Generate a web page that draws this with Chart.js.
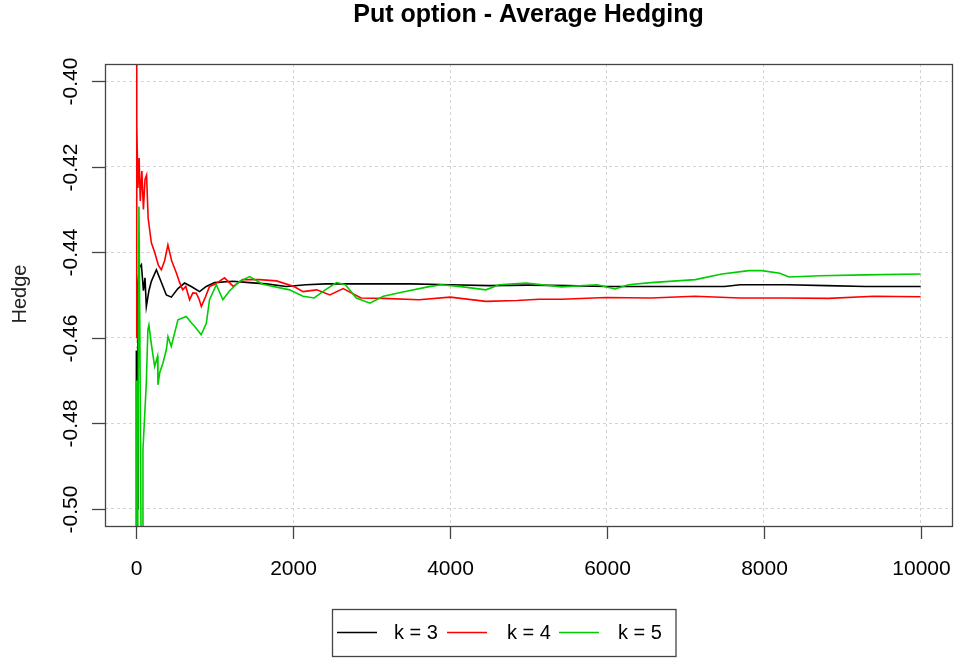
<!DOCTYPE html>
<html lang="en">
<head>
  <meta charset="UTF-8">
  <title>Put option - Average Hedging</title>
  <script src="https://cdn.jsdelivr.net/npm/chart.js"></script>
  <style>
    body { margin: 0; background: #fff; }
    canvas { display: block; }
  </style>
</head>
<body>
  <canvas id="hedgeChart" width="956" height="661"></canvas>

  <script>
    // tick labels
    const xTicks = [0, 2000, 4000, 6000, 8000, 10000];
    const yTicks = [-0.40, -0.42, -0.44, -0.46, -0.48, -0.50];
    const yTickLabels = ['-0.40', '-0.42', '-0.44', '-0.46', '-0.48', '-0.50'];

    // series names + colours
    const seriesNames = ['k = 3', 'k = 4', 'k = 5'];
    const seriesColors = ['#000000', '#ff0000', '#00cd00'];

    // k = 3
    const k3X = [0, 3, 10, 20, 40, 64, 90, 110, 127, 160, 191, 255, 313, 382, 446, 530, 615, 700, 806, 891,
      997, 1230, 1443, 1655, 1910, 2165, 2419, 2674, 3000, 3500, 4000, 4500, 5000, 5500, 6000, 6500, 7000, 7500, 7700, 8000,
      8300, 8800, 9300, 10000];
    const k3Y = [-0.463, -0.58, -0.50, -0.447, -0.4435, -0.4429, -0.449, -0.446, -0.4527, -0.449,
      -0.4468, -0.4441, -0.4468, -0.450, -0.4505, -0.4485, -0.4472, -0.448, -0.4492, -0.448,
      -0.4471, -0.4468, -0.4471, -0.4474, -0.448, -0.4476, -0.4474, -0.4474, -0.4474, -0.4474,
      -0.4476, -0.4478, -0.4477, -0.4478, -0.448, -0.448, -0.448, -0.448, -0.4476, -0.4476,
      -0.4476, -0.4478, -0.448, -0.448];

    // k = 4
    const k4X = [0, 2, 8, 20, 35, 50, 70, 90, 110, 130, 150, 191, 233, 280, 318, 360, 402, 450, 509, 550,
      590, 630, 679, 720, 764, 800, 828, 880, 933, 1000, 1124, 1236, 1354, 1444, 1570, 1787, 2011, 2125, 2300, 2467,
      2637, 2864, 3148, 3602, 4002, 4456, 4855, 5136, 5422, 5989, 6559, 7122, 7695, 8264, 8829, 9401, 10000];
    const k4Y = [-0.46, -0.30, -0.4103, -0.425, -0.418, -0.428, -0.421, -0.430, -0.423, -0.422,
      -0.432, -0.4378, -0.440, -0.443, -0.4441, -0.442, -0.4383, -0.442, -0.4448, -0.447,
      -0.4488, -0.448, -0.4511, -0.4495, -0.4496, -0.451, -0.4527, -0.4505, -0.448, -0.4475,
      -0.446, -0.448, -0.4464, -0.4464, -0.4464, -0.4467, -0.448, -0.4492, -0.4488, -0.450,
      -0.4485, -0.4507, -0.4508, -0.4511, -0.4505, -0.4515, -0.4513, -0.451, -0.451, -0.4506,
      -0.4507, -0.4503, -0.4507, -0.4507, -0.4508, -0.4503, -0.4504];

    // k = 5
    const k5X = [0, 4, 20, 33, 45, 64, 80, 84, 127, 147, 160, 195, 233, 270, 275, 300, 339, 382, 403, 445,
      530, 636, 700, 742, 826, 892, 933, 1020, 1103, 1189, 1316, 1444, 1613, 1952, 2125, 2267, 2409, 2551, 2665, 2805,
      2977, 3149, 3429, 3717, 3888, 4168, 4456, 4626, 4968, 5422, 5874, 6103, 6275, 6559, 7127, 7466, 7810, 7975, 8205, 8320,
      8714, 9287, 10000];
    const k5Y = [-0.47, -0.62, -0.49, -0.4293, -0.46, -0.52, -0.505, -0.4861, -0.4705, -0.4581,
      -0.457, -0.462, -0.4667, -0.4643, -0.471, -0.468, -0.4659, -0.4628, -0.4597, -0.462,
      -0.4558, -0.455, -0.4565, -0.4573, -0.4593, -0.4566, -0.4511, -0.4476, -0.4511, -0.449,
      -0.4468, -0.4457, -0.4475, -0.4488, -0.4503, -0.4507, -0.4488, -0.4471, -0.4476, -0.4507,
      -0.4519, -0.4503, -0.4492, -0.4481, -0.4476, -0.4481, -0.4488, -0.4476, -0.4472, -0.4481,
      -0.4476, -0.4486, -0.4476, -0.4471, -0.4464, -0.4451, -0.4443, -0.4443, -0.4449, -0.4458,
      -0.4455, -0.4453, -0.4451];

    const FONT = "'Liberation Sans', Arial, sans-serif";

    function toPoints(xs, ys) {
      return xs.map((x, i) => ({ x: x, y: ys[i] }));
    }

    // R style frame, ticks, labels, title and legend
    const rStyle = {
      id: 'rStyle',
      afterDraw(chart) {
        const ctx = chart.ctx;
        const a = chart.chartArea;
        const xs = chart.scales.x, ys = chart.scales.y;
        ctx.save();

        // box
        ctx.strokeStyle = '#444';
        ctx.lineWidth = 1.3;
        ctx.strokeRect(a.left + 0.5, a.top + 0.5, a.right - a.left, a.bottom - a.top);

        // x axis
        ctx.fillStyle = '#000';
        ctx.font = '21px ' + FONT;
        ctx.textAlign = 'center';
        ctx.textBaseline = 'middle';
        xTicks.forEach(v => {
          const px = Math.round(xs.getPixelForValue(v)) + 0.5;
          ctx.beginPath();
          ctx.moveTo(px, a.bottom);
          ctx.lineTo(px, a.bottom + 13);
          ctx.stroke();
          ctx.fillText(String(v), px, 569);
        });

        // y axis
        yTicks.forEach((v, i) => {
          const py = Math.round(ys.getPixelForValue(v)) + 0.5;
          ctx.beginPath();
          ctx.moveTo(a.left - 13, py);
          ctx.lineTo(a.left, py);
          ctx.stroke();
          ctx.save();
          ctx.translate(71, py);
          ctx.rotate(-Math.PI / 2);
          ctx.fillText(yTickLabels[i], 0, 0);
          ctx.restore();
        });

        // y title
        ctx.save();
        ctx.fillStyle = '#222';
        ctx.font = '20px ' + FONT;
        ctx.translate(20, 294);
        ctx.rotate(-Math.PI / 2);
        ctx.fillText('Hedge', 0, 0);
        ctx.restore();

        // main title
        ctx.font = 'bold 25px ' + FONT;
        ctx.textBaseline = 'alphabetic';
        ctx.fillText('Put option - Average Hedging', (a.left + a.right) / 2, 22);

        // legend
        ctx.strokeStyle = '#444';
        ctx.lineWidth = 1.3;
        ctx.strokeRect(332.5, 609.5, 343.5, 47);
        ctx.font = '20px ' + FONT;
        ctx.textAlign = 'left';
        ctx.textBaseline = 'middle';
        const lineX = [337, 447, 559];
        const textX = [394, 507, 618];
        seriesNames.forEach((name, i) => {
          ctx.strokeStyle = seriesColors[i];
          ctx.lineWidth = 1.6;
          ctx.beginPath();
          ctx.moveTo(lineX[i], 632.5);
          ctx.lineTo(lineX[i] + 40, 632.5);
          ctx.stroke();
          ctx.fillStyle = '#000';
          ctx.fillText(name, textX[i], 633);
        });

        ctx.restore();
      }
    };

    const allX = [k3X, k4X, k5X];
    const allY = [k3Y, k4Y, k5Y];

    const ctx = document.getElementById('hedgeChart').getContext('2d');
    const hedgeChart = new Chart(ctx, {
      type: 'line',
      data: {
        datasets: seriesNames.map((name, i) => ({
          label: name,
          data: toPoints(allX[i], allY[i]),
          borderColor: seriesColors[i],
          borderWidth: 1.6,
          pointRadius: 0,
          tension: 0,
          fill: false,
          order: 3 - i
        }))
      },
      options: {
        responsive: false,
        animation: false,
        devicePixelRatio: 1,
        layout: { padding: { left: 105, right: 4, top: 64, bottom: 135 } },
        plugins: {
          legend: { display: false },
          title: { display: false },
          tooltip: { enabled: false }
        },
        scales: {
          x: {
            type: 'linear',
            min: -400,
            max: 10400,
            afterBuildTicks: s => { s.ticks = xTicks.map(v => ({ value: v })); },
            afterFit: s => { s.height = 0; },
            ticks: { display: false },
            grid: { color: '#d3d3d3', lineWidth: 1, drawTicks: false },
            border: { display: false, dash: [3, 3] }
          },
          y: {
            type: 'linear',
            min: -0.504,
            max: -0.396,
            afterBuildTicks: s => { s.ticks = yTicks.map(v => ({ value: v })); },
            afterFit: s => { s.width = 0; },
            ticks: { display: false },
            grid: { color: '#d3d3d3', lineWidth: 1, drawTicks: false },
            border: { display: false, dash: [3, 3] }
          }
        }
      },
      plugins: [rStyle]
    });
  </script>
</body>
</html>
